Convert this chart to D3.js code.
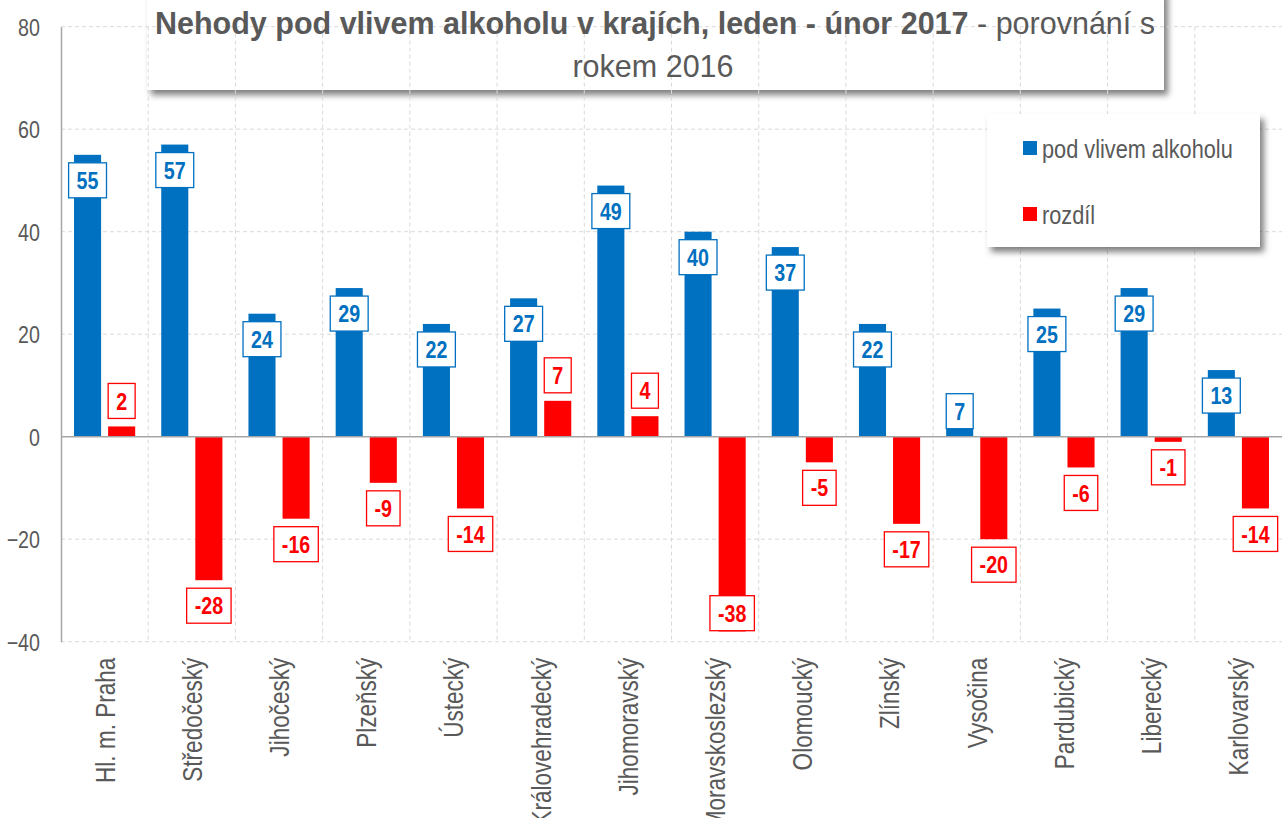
<!DOCTYPE html>
<html><head><meta charset="utf-8">
<script src="https://cdn.jsdelivr.net/npm/d3@7"></script>
<style>html,body{margin:0;padding:0;background:#fff;overflow:hidden}</style>
</head><body>
<svg id="c" width="1282" height="818"></svg>
<script>
const categories = ["Hl. m. Praha","Středočeský","Jihočeský","Plzeňský","Ústecký","Královehradecký","Jihomoravský","Moravskoslezský","Olomoucký","Zlínský","Vysočina","Pardubický","Liberecký","Karlovarský"];
const alkohol = [55,57,24,29,22,27,49,40,37,22,7,25,29,13];
const rozdil = [2,-28,-16,-9,-14,7,4,-38,-5,-17,-20,-6,-1,-14];
const yTicks = [-40,-20,0,20,40,60,80];
const seriesNames = ["pod vlivem alkoholu","rozdíl"];
const titleBold = "Nehody pod vlivem alkoholu v krajích, leden - únor 2017";
const titleRest = " - porovnání s";
const titleLine2 = "rokem 2016";

const BLUE = "#0070C0", RED = "#FF0000", GRAY = "#595959";
const svg = d3.select("#c");

function measure(fam){
  const t = svg.append("text").style("font-family", fam).style("font-size","100px").text("abcdefghij 0123456789");
  const w = t.node().getComputedTextLength(); t.remove(); return w;
}
const wN = measure('"Liberation Sans Narrow"'), wR = measure('"Liberation Sans"');
const hasNarrow = wN < wR * 0.9;
const NF = hasNarrow ? '"Liberation Sans Narrow","Arial Narrow",sans-serif' : '"Liberation Sans",Arial,sans-serif';
const SX = hasNarrow ? 1 : 0.82;
const RF = '"Liberation Sans",Arial,sans-serif';

const defs = svg.append("defs");
const f = defs.append("filter").attr("id","sh").attr("x","-10%").attr("y","-20%").attr("width","130%").attr("height","160%");
f.append("feDropShadow").attr("dx",4).attr("dy",5).attr("stdDeviation",3).attr("flood-color","#000").attr("flood-opacity",0.5);

const pLeft = 61, pRight = 1282, pTop = 26.7, pBottom = 641.7;
const y = d3.scaleLinear().domain([-40,80]).range([pBottom, pTop]);
const x = d3.scaleBand().domain(categories).range([pLeft, pRight]);
const xs = d3.scaleBand().domain(["a","r"]).range([0, x.bandwidth()]).paddingInner(0.206).paddingOuter(0.382);

// title box (behind gridlines)
svg.append("rect").attr("x",147).attr("y",-10).attr("width",1017).attr("height",100)
  .attr("fill","#fff").attr("filter","url(#sh)");

// gridlines
const grid = svg.append("g");
grid.selectAll("line.h").data(yTicks.filter(d=>d!==0)).join("line")
  .attr("x1",pLeft).attr("x2",pRight).attr("y1",d=>y(d)).attr("y2",d=>y(d))
  .attr("stroke","#D9D9D9").attr("stroke-width",1).attr("stroke-dasharray","4,3");
grid.selectAll("line.v").data(categories.slice(1)).join("line")
  .attr("x1",d=>x(d)).attr("x2",d=>x(d)).attr("y1",pTop).attr("y2",pBottom)
  .attr("stroke","#D9D9D9").attr("stroke-width",1).attr("stroke-dasharray","4,3");

// bars
const bars = svg.append("g");
bars.selectAll("rect.a").data(alkohol).join("rect")
  .attr("x",(d,i)=>x(categories[i])+xs("a")).attr("width",xs.bandwidth())
  .attr("y",d=>y(Math.max(d,0))).attr("height",d=>Math.abs(y(d)-y(0))).attr("fill",BLUE);
bars.selectAll("rect.r").data(rozdil).join("rect")
  .attr("x",(d,i)=>x(categories[i])+xs("r")).attr("width",xs.bandwidth())
  .attr("y",d=>y(Math.max(d,0))).attr("height",d=>Math.abs(y(d)-y(0))).attr("fill",RED);

// axes
const yAxis = svg.append("g").attr("transform",`translate(${pLeft},0)`)
  .call(d3.axisLeft(y).tickValues(yTicks).tickSize(0).tickPadding(21));
yAxis.select(".domain").attr("stroke","#A6A6A6").attr("stroke-width",1.5);
yAxis.selectAll(".tick text").each(function(){
  d3.select(this).style("font-family",NF).style("font-size","24px").attr("fill",GRAY)
   .attr("transform",`translate(-21,0) scale(${SX},1)`).attr("x",0).attr("dy","0.35em");
});

svg.append("line").attr("x1",pLeft).attr("x2",pRight).attr("y1",y(0)).attr("y2",y(0))
  .attr("stroke","#A6A6A6").attr("stroke-width",1.5);

const xAxis = svg.append("g").attr("transform",`translate(0,${pBottom})`)
  .call(d3.axisBottom(x).tickSize(0).tickPadding(0));
xAxis.select(".domain").remove();
xAxis.selectAll(".tick text").each(function(){
  d3.select(this).style("font-family",NF).style("font-size","27.5px").attr("fill",GRAY)
    .attr("text-anchor","end").attr("x",0).attr("y",0).attr("dy","0.36em")
    .attr("transform",`translate(0,16) rotate(-90) scale(${SX},1)`);
});

// data labels
const lab = svg.append("g");
function addLabel(val, cx, color, kind, barTopY, barBotY){
  const g = lab.append("g");
  const t = g.append("text").text(val).style("font-family",NF).style("font-size","24px")
    .style("font-weight","bold").attr("fill",color).attr("text-anchor","middle");
  const tw = t.node().getComputedTextLength()*SX;
  const w = tw + 16, h = 35;
  let by;
  if (kind === "inside") { by = barTopY + 8; if (by + h > y(0) - 8) by = y(0) - 8 - h; }
  else if (kind === "above") { by = barTopY - 8 - h; }
  else { by = barBotY + 8; if (by + h > pBottom - 11) by = pBottom - 11 - h; }
  g.insert("rect","text").attr("x",cx - w/2).attr("y",by).attr("width",w).attr("height",h)
    .attr("fill","#fff").attr("stroke",color).attr("stroke-width",1.3);
  t.attr("transform",`translate(${cx},${by + h/2}) scale(${SX},1)`).attr("dy","0.36em");
}
alkohol.forEach((d,i)=>{
  const cx = x(categories[i]) + xs("a") + xs.bandwidth()/2;
  addLabel(d, cx, BLUE, "inside", y(d), y(0));
});
rozdil.forEach((d,i)=>{
  const cx = x(categories[i]) + xs("r") + xs.bandwidth()/2;
  if (d >= 0) addLabel(d, cx, RED, "above", y(d), y(0));
  else addLabel(d, cx, RED, "below", y(0), y(d));
});

// title text
const tt = svg.append("text").attr("x",655).attr("y",34).attr("text-anchor","middle")
  .style("font-family",RF).style("font-size","30.5px").attr("fill",GRAY);
tt.append("tspan").style("font-weight","bold").text(titleBold);
tt.append("tspan").text(titleRest);
svg.append("text").attr("x",653).attr("y",77).attr("text-anchor","middle")
  .style("font-family",RF).style("font-size","30.5px").attr("fill",GRAY).text(titleLine2);

// legend
const lg = svg.append("g");
lg.append("rect").attr("x",987).attr("y",114).attr("width",273).attr("height",133)
  .attr("fill","#fff").attr("filter","url(#sh)");
const legColors = [BLUE, RED], legY = [148, 214];
seriesNames.forEach((n,i)=>{
  lg.append("rect").attr("x",1023).attr("y",legY[i]-7).attr("width",14).attr("height",14).attr("fill",legColors[i]);
  lg.append("text").text(n).style("font-family",NF).style("font-size","26.5px").attr("fill",GRAY)
    .attr("transform",`translate(1042,${legY[i]}) scale(${SX},1)`).attr("dy","0.36em");
});
</script>
</body></html>
